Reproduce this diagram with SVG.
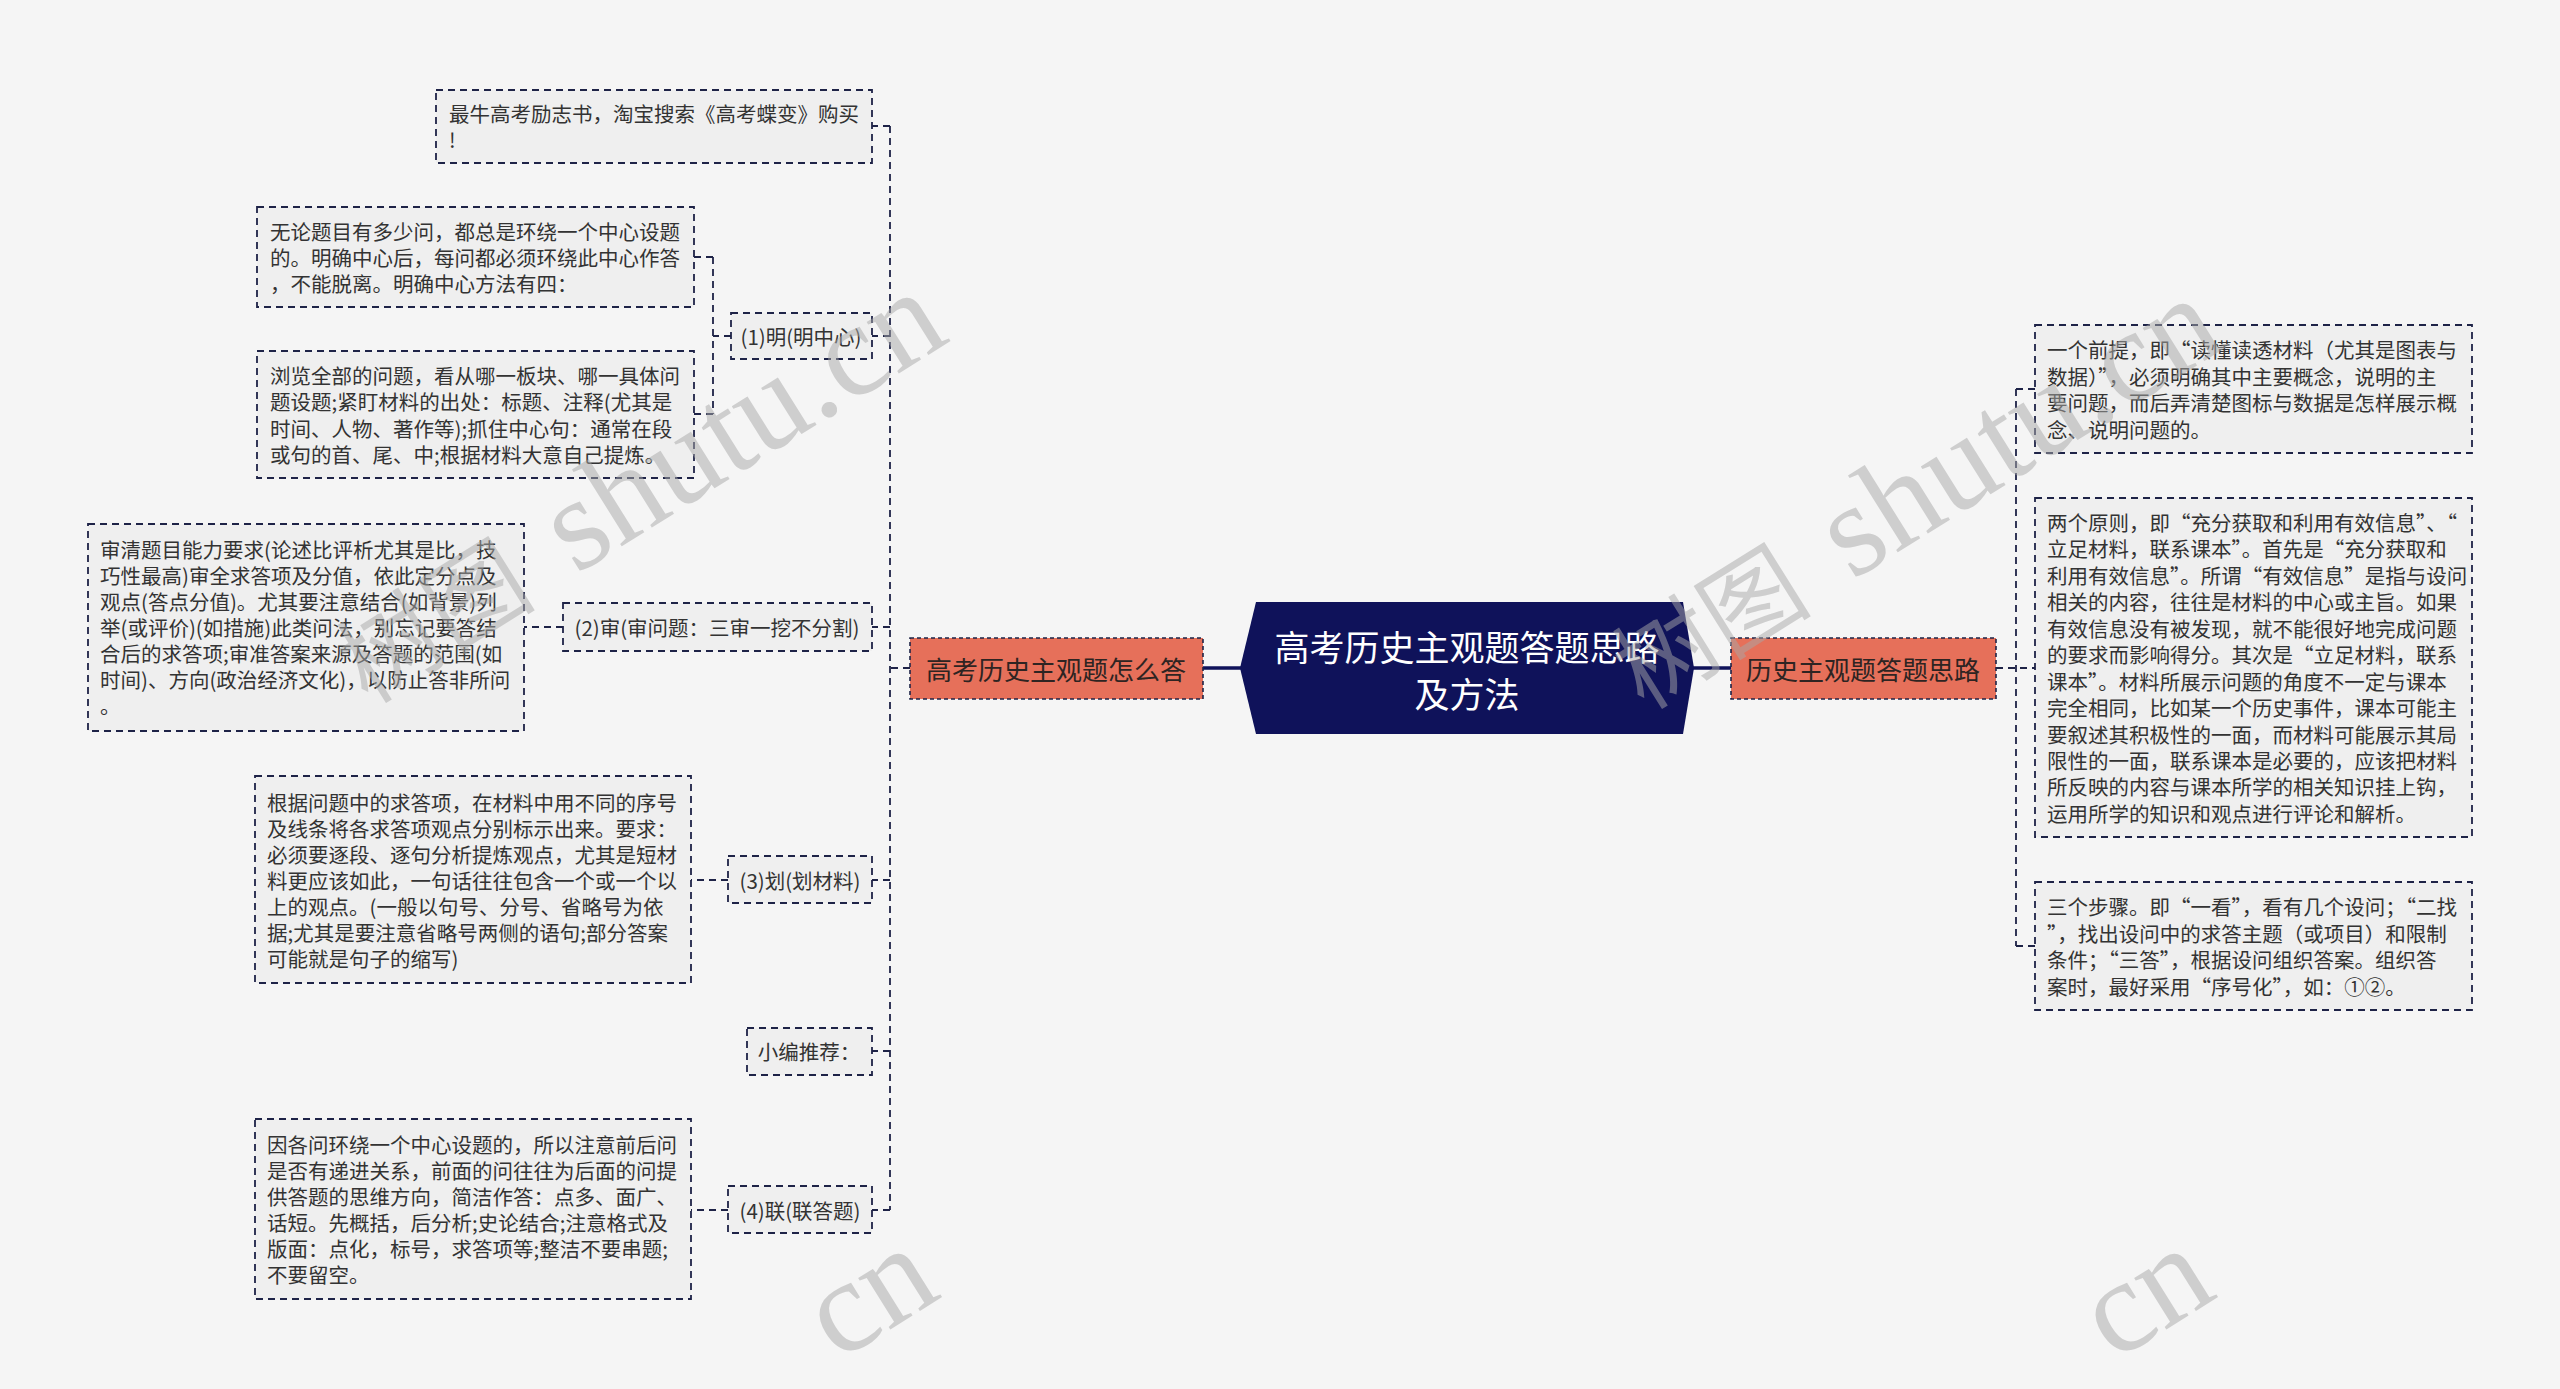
<svg xmlns="http://www.w3.org/2000/svg" width="2560" height="1389" viewBox="0 0 2560 1389">
<style>
.box{fill:#efefef;stroke:#1e2347;stroke-width:1.8;stroke-dasharray:7 5}
.main{fill:#e6705a;stroke:#1e2347;stroke-width:1.6;stroke-dasharray:4 3}
.t{font-family:"Noto Sans CJK SC","Noto Sans",sans-serif;font-size:20.5px;fill:#333;dominant-baseline:central}
.c{text-anchor:middle}
.mt{font-family:"Noto Sans CJK SC","Noto Sans",sans-serif;font-size:26px;fill:#2e2422;dominant-baseline:central;text-anchor:middle}
.ct{font-family:"Noto Sans CJK SC","Noto Sans",sans-serif;font-size:35px;fill:#fff;dominant-baseline:central;text-anchor:middle}
.ln{fill:none;stroke:#1e2347;stroke-width:1.8;stroke-dasharray:7 5}
.solid{fill:none;stroke:#0f125a;stroke-width:3.5}
.wm{font-family:"Liberation Serif",serif;font-size:132px;fill:#a8a8a8;opacity:0.5}
.wmc{font-family:"Noto Sans CJK SC",sans-serif;font-size:100px;fill:#a8a8a8;opacity:0.5}
</style>
<rect width="2560" height="1389" fill="#f5f5f5"/>

<g id="connectors">
<path class="ln" d="M910 668 H890 M890 126 V1210 M890 126 H872 M890 336 H872 M890 627 H872 M890 880 H872 M890 1051 H872 M890 1210 H872"/>
<path class="ln" d="M731 336 H713 M713 257 V414 M713 257 H694 M713 414 H694"/>
<path class="ln" d="M563 627 H524"/>
<path class="ln" d="M728 880 H691"/>
<path class="ln" d="M728 1210 H691"/>
<path class="ln" d="M1996 668 H2035 M2016 389 V946 M2016 389 H2035 M2016 946 H2035"/>
<path class="solid" d="M1203 668 H1242 M1692 668 H1731"/>
</g>

<g id="center">
<polygon points="1256,602 1683,602 1694,668 1683,734 1256,734 1240,668" fill="#0f125a"/>
<text class="ct" x="1467" y="645">高考历史主观题答题思路</text>
<text class="ct" x="1467" y="692">及方法</text>
</g>

<g id="left-main">
<rect class="main" x="910" y="638" width="293" height="61"/>
<text class="mt" x="1056" y="668">高考历史主观题怎么答</text>
</g>

<g id="right-main">
<rect class="main" x="1731" y="638" width="265" height="61"/>
<text class="mt" x="1863" y="668">历史主观题答题思路</text>
</g>

<g id="n-top">
<rect class="box" x="436" y="90" width="436" height="73"/>
<text class="t" x="449" y="113">最牛高考励志书，淘宝搜索《高考蝶变》购买</text>
<text class="t" x="449" y="139">!</text>
</g>

<g id="n-ming">
<rect class="box" x="731" y="313" width="141" height="46"/>
<text class="t c" x="801" y="336">(1)明(明中心)</text>
</g>

<g id="n-wulun">
<rect class="box" x="257" y="207" width="437" height="100"/>
<text class="t" x="270" y="231">无论题目有多少问，都总是环绕一个中心设题</text>
<text class="t" x="270" y="257">的。明确中心后，每问都必须环绕此中心作答</text>
<text class="t" x="270" y="283">，不能脱离。明确中心方法有四：</text>
</g>

<g id="n-liulan">
<rect class="box" x="257" y="351" width="437" height="127"/>
<text class="t" x="270" y="375">浏览全部的问题，看从哪一板块、哪一具体问</text>
<text class="t" x="270" y="401">题设题;紧盯材料的出处：标题、注释(尤其是</text>
<text class="t" x="270" y="428">时间、人物、著作等);抓住中心句：通常在段</text>
<text class="t" x="270" y="454">或句的首、尾、中;根据材料大意自己提炼。</text>
</g>

<g id="n-shen">
<rect class="box" x="563" y="603" width="309" height="48"/>
<text class="t c" x="717" y="627">(2)审(审问题：三审一挖不分割)</text>
</g>

<g id="n-shenqing">
<rect class="box" x="88" y="524" width="436" height="207"/>
<text class="t" x="100" y="549">审清题目能力要求(论述比评析尤其是比，技</text>
<text class="t" x="100" y="575">巧性最高)审全求答项及分值，依此定分点及</text>
<text class="t" x="100" y="601">观点(答点分值)。尤其要注意结合(如背景)列</text>
<text class="t" x="100" y="627">举(或评价)(如措施)此类问法，别忘记要答结</text>
<text class="t" x="100" y="653">合后的求答项;审准答案来源及答题的范围(如</text>
<text class="t" x="100" y="679">时间)、方向(政治经济文化)，以防止答非所问</text>
<text class="t" x="100" y="705">。</text>
</g>

<g id="n-hua">
<rect class="box" x="728" y="856" width="144" height="47"/>
<text class="t c" x="800" y="880">(3)划(划材料)</text>
</g>

<g id="n-genju">
<rect class="box" x="255" y="776" width="436" height="207"/>
<text class="t" x="267" y="802">根据问题中的求答项，在材料中用不同的序号</text>
<text class="t" x="267" y="828">及线条将各求答项观点分别标示出来。要求：</text>
<text class="t" x="267" y="854">必须要逐段、逐句分析提炼观点，尤其是短材</text>
<text class="t" x="267" y="880">料更应该如此，一句话往往包含一个或一个以</text>
<text class="t" x="267" y="906">上的观点。(一般以句号、分号、省略号为依</text>
<text class="t" x="267" y="932">据;尤其是要注意省略号两侧的语句;部分答案</text>
<text class="t" x="267" y="958">可能就是句子的缩写)</text>
</g>

<g id="n-xiaobian">
<rect class="box" x="747" y="1028" width="125" height="47"/>
<text class="t c" x="809" y="1051">小编推荐：</text>
</g>

<g id="n-lian">
<rect class="box" x="728" y="1186" width="144" height="47"/>
<text class="t c" x="800" y="1210">(4)联(联答题)</text>
</g>

<g id="n-yinge">
<rect class="box" x="255" y="1119" width="436" height="180"/>
<text class="t" x="267" y="1144">因各问环绕一个中心设题的，所以注意前后问</text>
<text class="t" x="267" y="1170">是否有递进关系，前面的问往往为后面的问提</text>
<text class="t" x="267" y="1196">供答题的思维方向，简洁作答：点多、面广、</text>
<text class="t" x="267" y="1222">话短。先概括，后分析;史论结合;注意格式及</text>
<text class="t" x="267" y="1248">版面：点化，标号，求答项等;整洁不要串题;</text>
<text class="t" x="267" y="1274">不要留空。</text>
</g>

<g id="r-1">
<rect class="box" x="2035" y="325" width="437" height="128"/>
<text class="t" x="2047" y="349">一个前提，即“读懂读透材料（尤其是图表与</text>
<text class="t" x="2047" y="376">数据）”，必须明确其中主要概念，说明的主</text>
<text class="t" x="2047" y="402">要问题，而后弄清楚图标与数据是怎样展示概</text>
<text class="t" x="2047" y="429">念、说明问题的。</text>
</g>

<g id="r-2">
<rect class="box" x="2035" y="498" width="437" height="339"/>
<text class="t" x="2047" y="522">两个原则，即“充分获取和利用有效信息”、“</text>
<text class="t" x="2047" y="548">立足材料，联系课本”。首先是“充分获取和</text>
<text class="t" x="2047" y="575">利用有效信息”。所谓“有效信息”是指与设问</text>
<text class="t" x="2047" y="601">相关的内容，往往是材料的中心或主旨。如果</text>
<text class="t" x="2047" y="628">有效信息没有被发现，就不能很好地完成问题</text>
<text class="t" x="2047" y="654">的要求而影响得分。其次是“立足材料，联系</text>
<text class="t" x="2047" y="681">课本”。材料所展示问题的角度不一定与课本</text>
<text class="t" x="2047" y="707">完全相同，比如某一个历史事件，课本可能主</text>
<text class="t" x="2047" y="734">要叙述其积极性的一面，而材料可能展示其局</text>
<text class="t" x="2047" y="760">限性的一面，联系课本是必要的，应该把材料</text>
<text class="t" x="2047" y="786">所反映的内容与课本所学的相关知识挂上钩，</text>
<text class="t" x="2047" y="813">运用所学的知识和观点进行评论和解析。</text>
</g>

<g id="r-3">
<rect class="box" x="2035" y="882" width="437" height="128"/>
<text class="t" x="2047" y="906">三个步骤。即“一看”，看有几个设问；“二找</text>
<text class="t" x="2047" y="933">”，找出设问中的求答主题（或项目）和限制</text>
<text class="t" x="2047" y="959">条件；“三答”，根据设问组织答案。组织答</text>
<text class="t" x="2047" y="986">案时，最好采用“序号化”，如：①②。</text>
</g>

<g id="watermark">
<text class="wmc" transform="translate(368,705) rotate(-32)">树图</text>
<text class="wm" transform="translate(576,575) rotate(-32)">shutu.cn</text>
<text class="wmc" transform="translate(1644,711) rotate(-32)">树图</text>
<text class="wm" transform="translate(1852,581) rotate(-32)">shutu.cn</text>
<text class="wm" transform="translate(838,1362) rotate(-32)">cn</text>
<text class="wm" transform="translate(2114,1362) rotate(-32)">cn</text>
</g>
</svg>
